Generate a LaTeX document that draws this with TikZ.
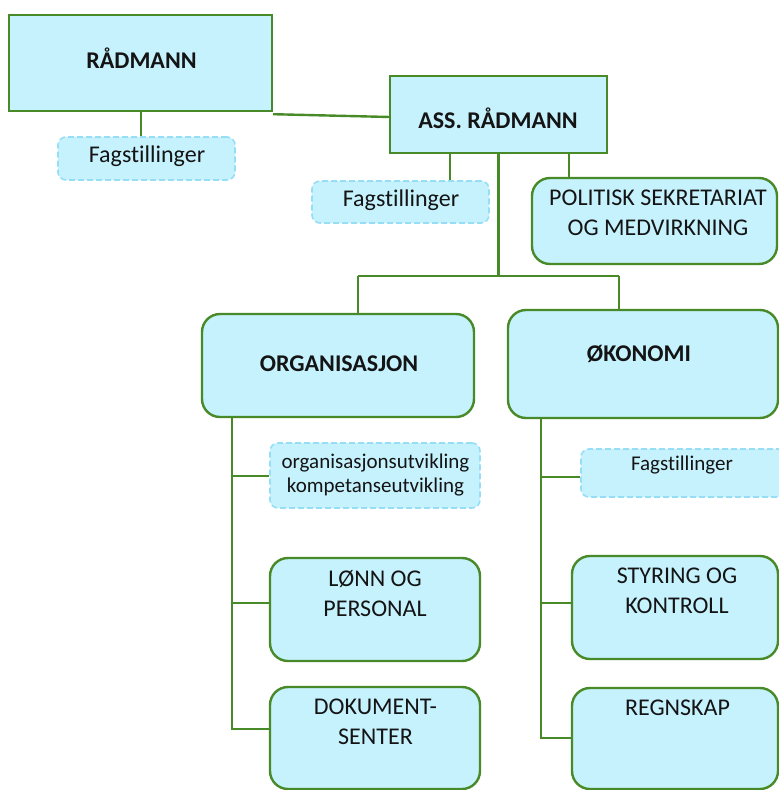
\documentclass[tikz,border=0pt]{standalone}
\usepackage{fontspec}
\setmainfont[Ligatures=NoCommon]{Carlito}
\definecolor{lgreen}{RGB}{72,138,40}
\definecolor{cyanfill}{RGB}{198,242,254}
\definecolor{dashblue}{RGB}{150,222,246}
\definecolor{txt}{RGB}{20,20,20}
\begin{document}
\begin{tikzpicture}[x=1pt,y=-1pt,
  box/.style={draw=lgreen,line width=2.4pt,fill=cyanfill,inner sep=0pt},
  rbox/.style={box,rounded corners=18pt},
  dbox/.style={draw=dashblue,line width=1.6pt,dash pattern=on 6pt off 3pt,fill=cyanfill,rounded corners=8pt,inner sep=0pt},
  conn/.style={draw=lgreen,line width=2.4pt},
  lbl/.style={inner sep=0pt,anchor=base,align=center,text=txt,font=\fontsize{24}{30}\selectfont},
  slbl/.style={lbl,font=\fontsize{21}{24}\selectfont},
  blbl/.style={lbl,font=\fontsize{24}{30}\selectfont\bfseries}]
\clip (0,0) rectangle (779,790);
% boxes
\node[box,minimum width=263pt,minimum height=96pt] (rad) at (140.5,63) {};
\node[dbox,minimum width=177pt,minimum height=43pt] (fag1) at (146.5,158.5) {};
\node[box,minimum width=217pt,minimum height=77pt] (ass) at (498.5,114.5) {};
\node[dbox,minimum width=177pt,minimum height=42pt] (fag2) at (400.5,202) {};
\node[rbox,minimum width=245pt,minimum height=86pt] (pol) at (654.5,221) {};
\node[rbox,minimum width=272pt,minimum height=103pt] (org) at (338,365.5) {};
\node[rbox,minimum width=270pt,minimum height=108pt] (oko) at (643,364) {};
\node[dbox,minimum width=210pt,minimum height=65pt] (orgutv) at (375,475.5) {};
\node[rbox,minimum width=210pt,minimum height=103pt] (lonn) at (375,609.5) {};
\node[rbox,minimum width=210pt,minimum height=102pt] (dok) at (375,738) {};
\node[dbox,minimum width=209pt,minimum height=48pt] (fag3) at (685.5,473) {};
\node[rbox,minimum width=206pt,minimum height=103pt] (styr) at (675,607.5) {};
\node[rbox,minimum width=206pt,minimum height=101pt] (regn) at (675,738.5) {};
% labels (multi-line labels are anchored at the baseline of their last line)
\node[blbl] (trad) at (141.5,68) {RÅDMANN};
\node[lbl] (tfag1) at (147,162) {Fagstillinger};
\node[blbl] (tass) at (498,128) {ASS. RÅDMANN};
\node[lbl] (tfag2) at (401,206) {Fagstillinger};
\node[lbl] (tpol) at (658,235) {POLITISK SEKRETARIAT\\OG MEDVIRKNING};
\node[blbl] (torg) at (339,371) {ORGANISASJON};
\node[blbl] (toko) at (639,361) {ØKONOMI};
\node[slbl] (torgutv) at (375.5,492) {organisasjonsutvikling\\kompetanseutvikling};
\node[lbl] (tlonn) at (375,616) {LØNN OG\\PERSONAL};
\node[lbl] (tdok) at (375.5,744) {DOKUMENT-\\SENTER};
\node[slbl] (tfag3) at (682,470) {Fagstillinger};
\node[lbl] (tstyr) at (677,613) {STYRING OG\\KONTROLL};
\node[lbl] (tregn) at (677.5,715) {REGNSKAP};
% junction coordinates
\coordinate (ra) at (390,117);
\coordinate (j) at (498.5,276);
\coordinate (jl) at (358,276);
\coordinate (jr) at (619,276);
\coordinate (ob1) at (232,476);
\coordinate (ob2) at (232,603);
\coordinate (ob3) at (232,729);
\coordinate (kb1) at (541,477);
\coordinate (kb2) at (541,603);
\coordinate (kb3) at (541,738);
% connectors
\draw[conn] ([xshift=0.5pt]rad.south) -- ([xshift=0.5pt]rad.south |- fag1.north);
\draw[conn] ([yshift=-2pt]rad.south east) -- (ra);
\draw[conn] ([xshift=-48.5pt]ass.south) -- ([xshift=-48.5pt]ass.south |- fag2.north);
\draw[conn] ([xshift=70.5pt]ass.south) -- ([xshift=70.5pt]ass.south |- pol.north);
\draw[conn] (ass.south) -- (j);
\draw[conn] (jl) -- (jr);
\draw[conn] (jl) -- (jl |- org.north);
\draw[conn] (jr) -- (jr |- oko.north);
\draw[conn] (org.south -| ob1) -- (ob3) -- (ob3 -| dok.west);
\draw[conn] (ob1) -- (ob1 -| orgutv.west);
\draw[conn] (ob2) -- (ob2 -| lonn.west);
\draw[conn] (oko.south -| kb1) -- (kb3) -- (kb3 -| regn.west);
\draw[conn] (kb1) -- (kb1 -| fag3.west);
\draw[conn] (kb2) -- (kb2 -| styr.west);
\end{tikzpicture}
\end{document}
